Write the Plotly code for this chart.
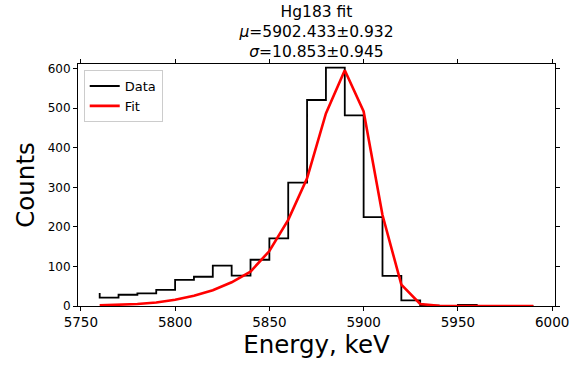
import plotly.graph_objects as go

# Data
energy = [5760, 5770, 5780, 5790, 5800, 5810, 5820, 5830, 5840, 5850, 5860, 5870,
          5880, 5890, 5900, 5910, 5920, 5930, 5940, 5950, 5960, 5970, 5980, 5990]
counts = [33, 21, 28.5, 32, 41, 66, 74, 102, 77, 117, 171, 312,
          521, 603, 482, 225, 76, 14, 1, 0, 3, 0, 0, 0]
fit = [1.5, 3, 5, 9, 16, 26, 40, 60, 87, 139, 218, 323,
       487, 596, 492, 230, 54, 5, 0.5, 0, 0, 0, 0, 0]

title_lines = ["Hg183 fit", "<i>μ</i>=5902.433±0.932", "<i>σ</i>=10.853±0.945"]
x_ticks = [5750, 5800, 5850, 5900, 5950, 6000]
y_ticks = [0, 100, 200, 300, 400, 500, 600]

FONT = "DejaVu Sans"

fig = go.Figure()
fig.add_trace(go.Scatter(x=energy, y=counts, mode="lines", name="Data",
                         line=dict(color="black", width=1.8, shape="vh")))
fig.add_trace(go.Scatter(x=energy, y=fit, mode="lines", name="Fit",
                         line=dict(color="red", width=2.6)))

axis_common = dict(showgrid=False, zeroline=False, showline=True, linecolor="black",
                   linewidth=1, mirror="ticks", ticks="outside", ticklen=4,
                   tickwidth=1, tickcolor="black")

fig.update_layout(
    width=580, height=366,
    margin=dict(l=78, r=25, t=64, b=60),
    paper_bgcolor="white", plot_bgcolor="white",
    font=dict(family=FONT, color="black"),
    title=dict(text="<br>".join(title_lines), x=0.5, xref="paper", xanchor="center",
               y=1 - 16.5 / 366, yref="container", yanchor="top",
               font=dict(family=FONT, size=15.5, color="black")),
    showlegend=True,
    legend=dict(x=0.012, y=0.975, xanchor="left", yanchor="top",
                bgcolor="white", bordercolor="#cccccc", borderwidth=1,
                font=dict(family=FONT, size=13, color="black"),
                tracegroupgap=0),
    xaxis=dict(range=[5748.5, 6001.5], tickvals=x_ticks,
               tickfont=dict(family=FONT, size=13.5, color="black"),
               title=dict(text="Energy, keV", font=dict(family=FONT, size=24.5), standoff=6),
               **axis_common),
    yaxis=dict(range=[0, 612], tickvals=y_ticks,
               tickfont=dict(family=FONT, size=12, color="black"),
               title=dict(text="Counts", font=dict(family=FONT, size=24.5), standoff=6),
               **axis_common),
)

fig.write_html("out.html")
